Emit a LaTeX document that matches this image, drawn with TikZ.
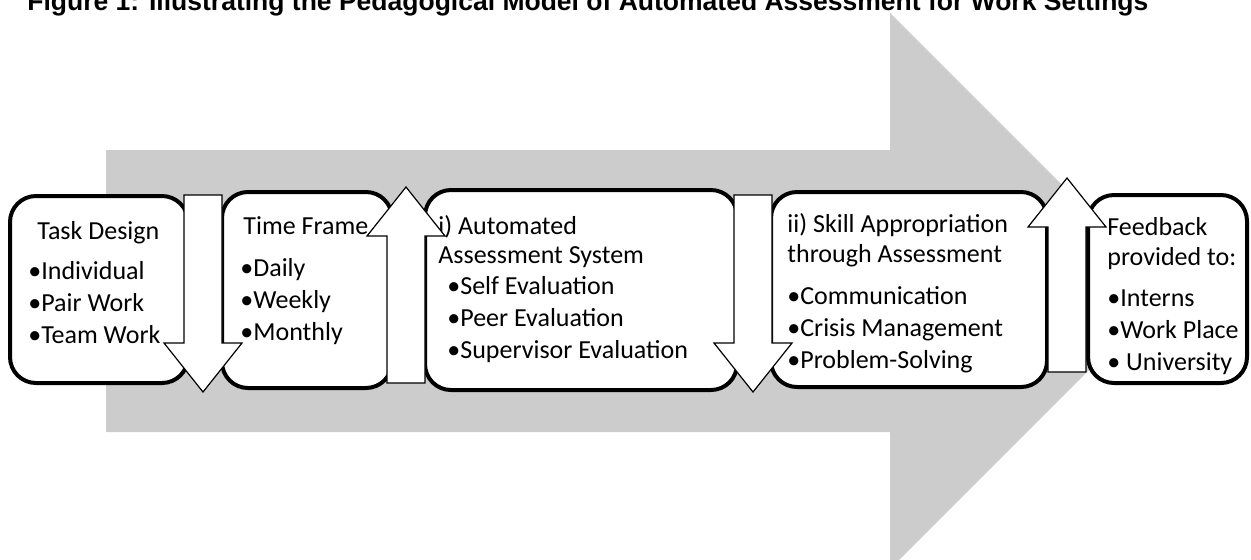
\documentclass[tikz,border=0pt]{standalone}
\usepackage{fontspec}
\setmainfont{Carlito}
\newfontfamily\headfont{Liberation Sans}
\usetikzlibrary{fit, positioning}

\tikzset{
    stage/.style={draw=black, line width=2pt, fill=white, rounded corners=13pt, inner sep=0pt},
    items/.style={anchor=base west, align=left, inner sep=0pt, font=\fontsize{13}{16}\selectfont},
    turn/.style={draw=black, line width=0.6pt, fill=white},
}

\begin{document}
\begin{tikzpicture}[x=0.5pt, y=-0.5pt]
\useasboundingbox (0,0) rectangle (1251,559);

    \node[anchor=base west, inner sep=0pt, font=\headfont\bfseries\fontsize{13.25}{16}\selectfont] (title) at (27,10) {Figure 1: Illustrating the Pedagogical Model of Automated Assessment for Work Settings};

% big grey arrow behind the stages
\fill[black!20] (106,150) -- (890,150) -- (890,13) -- (1168,291) -- (890,569) -- (890,432) -- (106,432) -- cycle;

    \node[stage, fit={(10,196) (188,383)}] (task) {};
    \node[stage, fit={(222,192) (392,388)}] (timeframe) {};
    \node[stage, fit={(425,190) (737,390)}] (autoassess) {};
    \node[stage, fit={(771,192) (1047,387)}] (skill) {};
    \node[stage, fit={(1088,195) (1247,383)}] (feedback) {};

% lists sit on the baseline of their last line
    \node[items] (task-list) at (28,343) {\hspace*{4.5pt}Task Design\\[4pt]•Individual\\•Pair Work\\•Team Work};
    \node[items] (timeframe-list) at (240,340) {\hspace*{1.5pt}Time Frame\\[5pt]•Daily\\•Weekly\\•Monthly};
    \node[items] (autoassess-list) at (438,358) {i) Automated\\[-1.5pt]Assessment System\\[-0.5pt]\hspace*{4.5pt}•Self Evaluation\\\hspace*{4.5pt}•Peer Evaluation\\\hspace*{4.5pt}•Supervisor Evaluation};
    \node[items] (skill-list) at (787,368) {ii) Skill Appropriation\\[-1pt]through Assessment\\[5pt]•Communication\\•Crisis Management\\•Problem-Solving};
    \node[items] (feedback-list) at (1107,370) {Feedback\\[-1pt]provided to:\\[4.5pt]•Interns\\•Work Place\\• University};

% white block arrows between the stages
\foreach \cx/\tail/\tip/\s in {203/195/392/1, 406/383/187/-1, 753/195/392/1, 1067/372/178/-1}
    \draw[turn] ({\cx-19},\tail) -- ({\cx+19},\tail) -- ({\cx+19},{\tip-49*\s}) -- ({\cx+39},{\tip-49*\s}) -- (\cx,\tip) -- ({\cx-39},{\tip-49*\s}) -- ({\cx-19},{\tip-49*\s}) -- cycle;

\end{tikzpicture}
\end{document}
